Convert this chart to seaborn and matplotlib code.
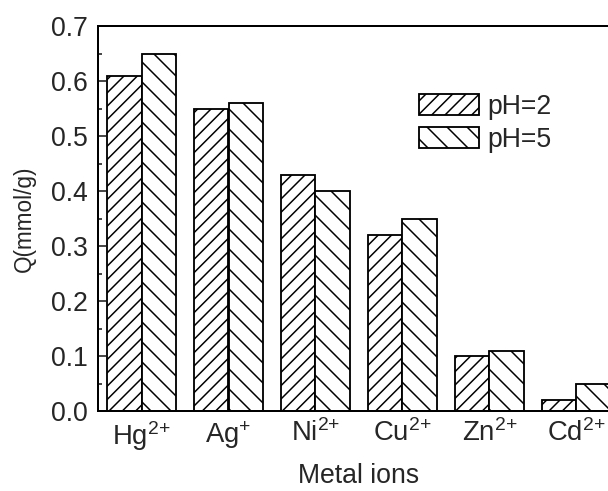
import matplotlib
matplotlib.use("Agg")
import matplotlib.pyplot as plt
import seaborn as sns
import pandas as pd

# Adsorption capacity of each metal ion at two pH values
ions = [r"Hg$^{2{+}}$", r"Ag$^{{+}}$", r"Ni$^{2{+}}$", r"Cu$^{2{+}}$", r"Zn$^{2{+}}$", r"Cd$^{2{+}}$"]
q_ph2 = [0.61, 0.55, 0.43, 0.32, 0.10, 0.02]
q_ph5 = [0.65, 0.56, 0.40, 0.35, 0.11, 0.05]
series = ["pH=2", "pH=5"]
y_ticks = [0.0, 0.1, 0.2, 0.3, 0.4, 0.5, 0.6, 0.7]

df = pd.DataFrame({
    "ion": ions * 2,
    "Q": q_ph2 + q_ph5,
    "pH": [series[0]] * len(ions) + [series[1]] * len(ions),
})

sns.set_theme(style="ticks")
plt.rcParams["font.family"] = ["Liberation Sans", "DejaVu Sans"]
plt.rcParams["mathtext.fontset"] = "custom"
plt.rcParams["mathtext.rm"] = "Liberation Sans"
plt.rcParams["mathtext.it"] = "Liberation Sans"
plt.rcParams["hatch.linewidth"] = 0.9
plt.rcParams["hatch.color"] = "black"

DPI = 120
fig = plt.figure(figsize=(608 / DPI, 491 / DPI), dpi=DPI)
ax = fig.add_axes([98 / 608, 1 - 411 / 491, 522 / 608, 385 / 491])

sns.barplot(data=df, x="ion", y="Q", hue="pH", order=ions, hue_order=series,
            width=0.8, palette=["white", "white"], edgecolor="black",
            linewidth=1.1, saturation=1, ax=ax, legend=True)

hatches = ["///", "\\\\"]
for cont, h in zip(ax.containers, hatches):
    for bar in cont:
        bar.set_hatch(h)
        bar.set_facecolor("white")
        bar.set_edgecolor("black")

ax.set_ylim(0, 0.7)
ax.set_yticks(y_ticks)
ax.set_yticklabels([f"{v:.1f}" for v in y_ticks])
ax.set_yticks([v + 0.05 for v in y_ticks[:-1]], minor=True)
ax.tick_params(axis="y", which="major", direction="in", length=4.8, width=1.0,
               labelsize=16, pad=6)
ax.tick_params(axis="y", which="minor", direction="in", length=2.4, width=1.0)
ax.tick_params(axis="x", length=0, labelsize=16.5, pad=5)

for side in ["left", "bottom", "top", "right"]:
    ax.spines[side].set_linewidth(1.2)
    ax.spines[side].set_color("black")

ax.set_xlabel("Metal ions", fontsize=16, labelpad=6)
ax.set_ylabel("Q(mmol/g)", fontsize=13.5, labelpad=9)

handles, labels = ax.get_legend_handles_labels()
for hd, h in zip(handles, hatches):
    hd.set_hatch(h)
    hd.set_facecolor("white")
    hd.set_edgecolor("black")
ax.legend(handles, labels, loc="upper left",
          bbox_to_anchor=(419 / 608, 1 - 94 / 491), bbox_transform=fig.transFigure,
          frameon=False, fontsize=16, handlelength=2.25, handleheight=0.86,
          handletextpad=0.3, labelspacing=0.25, borderpad=0, borderaxespad=0)

fig.savefig("out.png", dpi=DPI)
